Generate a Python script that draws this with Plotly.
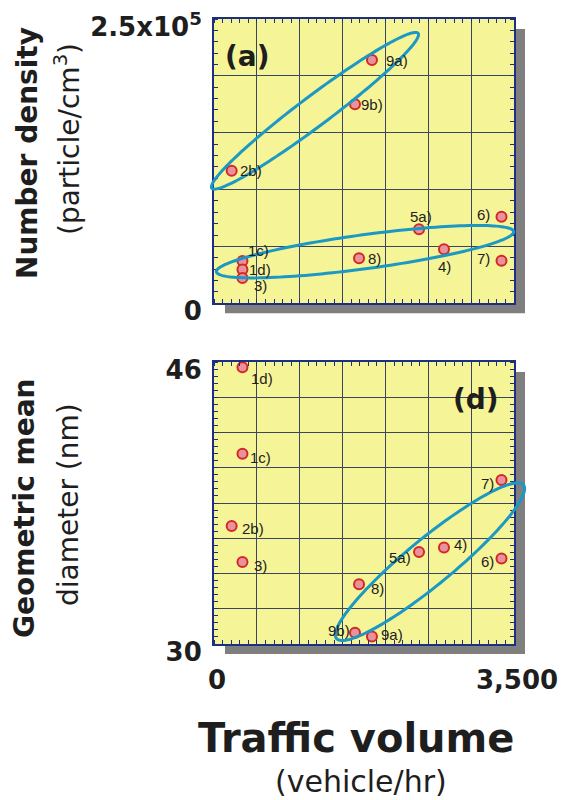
import numpy as np
import plotly.graph_objects as go

# ---------------- data ----------------
sites = ["1c)", "1d)", "2b)", "3)", "4)", "5a)", "6)", "7)", "8)", "9a)", "9b)"]
traffic_volume = [332, 332, 206, 332, 2683, 2392, 3354, 3354, 1692, 1843, 1645]
number_density = [37200, 29700, 116600, 22200, 47500, 65100, 76100, 37500, 39600, 213900, 175000]
gm_diameter = [40.8, 45.7, 36.7, 34.65, 35.47, 35.22, 34.85, 39.3, 33.39, 30.43, 30.64]

x_range = [0, 3500]
nd_range = [0, 250000]
gm_range = [30, 46]
x_ticktext = ["0", "3,500"]
nd_ticktext = ["0", "2.5x10<sup>5</sup>"]
gm_ticktext = ["30", "46"]

# ---------------- layout geometry ----------------
W, H = 564, 800
ML, MR, MT, MB = 214, 50, 19, 156
PW, PH = W - ML - MR, H - MT - MB
TOP_DOM = [0.5451, 1.0]
BOT_DOM = [0.0, 0.4512]

YELLOW = "#f5f497"
SHADOW = "#7f7f7f"
GRID = "#3a4660"
FRAME = "#1f2f7f"
ELLIPSE = "#1b98c4"
TXT = "#1e1e1e"


def px2paper(px, py):
    return (px - ML) / PW, (H - MB - py) / PH


def dom_px(dom):
    top = MT + (1 - dom[1]) * PH
    bot = MT + (1 - dom[0]) * PH
    return top, bot


def data2px(x, y, dom, yr):
    top, bot = dom_px(dom)
    px = ML + (x - x_range[0]) / (x_range[1] - x_range[0]) * PW
    py = bot - (y - yr[0]) / (yr[1] - yr[0]) * (bot - top)
    return px, py


def ellipse_shape(cx, cy, dom, yr, a, b, ang):
    cxp, cyp = data2px(cx, cy, dom, yr)
    t = np.linspace(0, 2 * np.pi, 161)
    th = np.deg2rad(ang)
    xs = cxp + a * np.cos(t) * np.cos(th) + b * np.sin(t) * np.sin(th)
    ys = cyp - a * np.cos(t) * np.sin(th) + b * np.sin(t) * np.cos(th)
    pts = [px2paper(x, y) for x, y in zip(xs, ys)]
    path = "M " + " L ".join(f"{p[0]:.5f},{p[1]:.5f}" for p in pts) + " Z"
    return dict(type="path", xref="paper", yref="paper", path=path,
                line=dict(color=ELLIPSE, width=3), layer="above")


fig = go.Figure()

marker = dict(size=10, color="#e8939b", line=dict(color="#d42828", width=2))
fig.add_trace(go.Scatter(x=traffic_volume, y=number_density, mode="markers",
                         marker=marker, xaxis="x", yaxis="y", cliponaxis=False,
                         showlegend=False))
fig.add_trace(go.Scatter(x=traffic_volume, y=gm_diameter, mode="markers",
                         marker=marker, xaxis="x2", yaxis="y2", cliponaxis=False,
                         showlegend=False))

# point label offsets (dx, dy in px, anchor)
top_off = {
    "1c)": (4, -11, "left"), "1d)": (5, 0, "left"), "2b)": (6, 0, "left"),
    "3)": (10, 7, "left"), "4)": (1, 17, "center"), "5a)": (2, -13, "center"),
    "6)": (-9, -2, "right"), "7)": (-9, -2, "right"), "8)": (7, 0, "left"),
    "9a)": (12, 0, "left"), "9b)": (4, 0, "left"),
}
bot_off = {
    "1c)": (6, 4, "left"), "1d)": (7, 11, "left"), "2b)": (8, 3, "left"),
    "3)": (10, 3, "left"), "4)": (8, -3, "left"), "5a)": (-6, 5, "right"),
    "6)": (-5, 3, "right"), "7)": (-5, 3, "right"), "8)": (10, 4, "left"),
    "9a)": (7, -2, "left"), "9b)": (-3, -2, "right"),
}

annotations = []
lab_font = dict(family="Liberation Sans, Arial", size=15, color="#1e1e1e")
for s, xv, yv in zip(sites, traffic_volume, number_density):
    dx, dy, anc = top_off[s]
    annotations.append(dict(x=xv, y=yv, xref="x", yref="y", text=s, showarrow=False,
                            xanchor=anc, yanchor="middle", xshift=dx, yshift=-dy,
                            font=lab_font))
for s, xv, yv in zip(sites, traffic_volume, gm_diameter):
    dx, dy, anc = bot_off[s]
    annotations.append(dict(x=xv, y=yv, xref="x2", yref="y2", text=s, showarrow=False,
                            xanchor=anc, yanchor="middle", xshift=dx, yshift=-dy,
                            font=lab_font))


def paper_text(text, px, py, size, bold=False, angle=0, family="DejaVu Sans"):
    xp, yp = px2paper(px, py)
    return dict(x=xp, y=yp, xref="paper", yref="paper", text=text, showarrow=False,
                xanchor="center", yanchor="middle", textangle=angle,
                font=dict(family=family, size=size, color=TXT,
                          weight="bold" if bold else "normal"))


annotations += [
    paper_text("Number density", 27, 153, 28, bold=True, angle=-90),
    paper_text("(particle/cm<sup>3</sup>)", 68, 139, 28, angle=-90),
    paper_text("Geometric mean", 24, 508, 28, bold=True, angle=-90),
    paper_text("diameter (nm)", 68, 505, 28, angle=-90),
    paper_text("Traffic volume", 356, 738, 40, bold=True),
    paper_text("(vehicle/hr)", 361, 781, 30),
    paper_text("(a)", 247, 56, 28, bold=True),
    paper_text("(d)", 476, 399, 28, bold=True),
]

# frames: shadow + yellow background
shapes = []
for dom in (TOP_DOM, BOT_DOM):
    top, bot = dom_px(dom)
    x0, y0 = px2paper(ML + 11, bot + 10)
    x1, y1 = px2paper(ML + PW + 11, top + 10)
    shapes.append(dict(type="rect", xref="paper", yref="paper", x0=x0, y0=y0, x1=x1, y1=y1,
                       fillcolor=SHADOW, line=dict(width=0), layer="below"))
    shapes.append(dict(type="rect", xref="paper", yref="paper", x0=0, x1=1,
                       y0=dom[0], y1=dom[1], fillcolor=YELLOW, line=dict(width=0),
                       layer="below"))

# grouping ellipses (centre in data units, semi-axes in px, tilt in degrees)
shapes.append(ellipse_shape(1178, 169300, TOP_DOM, nd_range, 129, 15, 36.9))
shapes.append(ellipse_shape(1762, 45400, TOP_DOM, nd_range, 150, 17, 7.7))
shapes.append(ellipse_shape(2520, 34.67, BOT_DOM, gm_range, 121, 23, 39.4))

tick_font = dict(family="DejaVu Sans", size=26, color=TXT, weight="bold")


def xaxis_cfg(show_labels, anchor):
    return dict(range=x_range, domain=[0, 1], anchor=anchor, automargin=False,
                tickmode="array", tickvals=list(range(0, 3501, 500)),
                ticktext=[x_ticktext[0]] + [""] * 6 + [x_ticktext[1]],
                showticklabels=show_labels, ticks="", tickfont=tick_font,
                ticklabelstandoff=12, ticklabelshift=3,
                showgrid=True, gridcolor=GRID, gridwidth=1, zeroline=False,
                showline=True, linecolor=FRAME, linewidth=2, mirror="ticks",
                minor=dict(tickmode="array", tickvals=list(range(0, 3501, 100)),
                           ticks="inside", ticklen=4, tickcolor=FRAME, tickwidth=1,
                           showgrid=False),
                fixedrange=True)


def yaxis_cfg(dom, yr, step, minor_step, ttext, anchor):
    vals = [float(v) for v in np.round(np.arange(yr[0], yr[1] + step / 2, step), 6)]
    mvals = [float(v) for v in np.round(np.arange(yr[0], yr[1] + minor_step / 2, minor_step), 6)]
    return dict(range=yr, domain=dom, anchor=anchor, automargin=False,
                tickmode="array", tickvals=vals,
                ticktext=[ttext[0]] + [""] * (len(vals) - 2) + [ttext[1]],
                ticks="", tickfont=tick_font, ticklabelstandoff=5, ticklabelshift=8,
                showgrid=True, gridcolor=GRID, gridwidth=1, zeroline=False,
                showline=True, linecolor=FRAME, linewidth=2, mirror="ticks",
                minor=dict(tickmode="array", tickvals=mvals, ticks="inside",
                           ticklen=4, tickcolor=FRAME, tickwidth=1, showgrid=False),
                fixedrange=True)


fig.update_layout(
    width=W, height=H, autosize=False,
    margin=dict(l=ML, r=MR, t=MT, b=MB, pad=0, autoexpand=False),
    paper_bgcolor="white", plot_bgcolor="rgba(0,0,0,0)",
    xaxis=xaxis_cfg(False, "y"),
    yaxis=yaxis_cfg(TOP_DOM, nd_range, 50000, 10000, nd_ticktext, "x"),
    xaxis2=xaxis_cfg(True, "y2"),
    yaxis2=yaxis_cfg(BOT_DOM, gm_range, 2, 0.4, gm_ticktext, "x2"),
    shapes=shapes, annotations=annotations, showlegend=False,
)

fig.write_html("out.html")
